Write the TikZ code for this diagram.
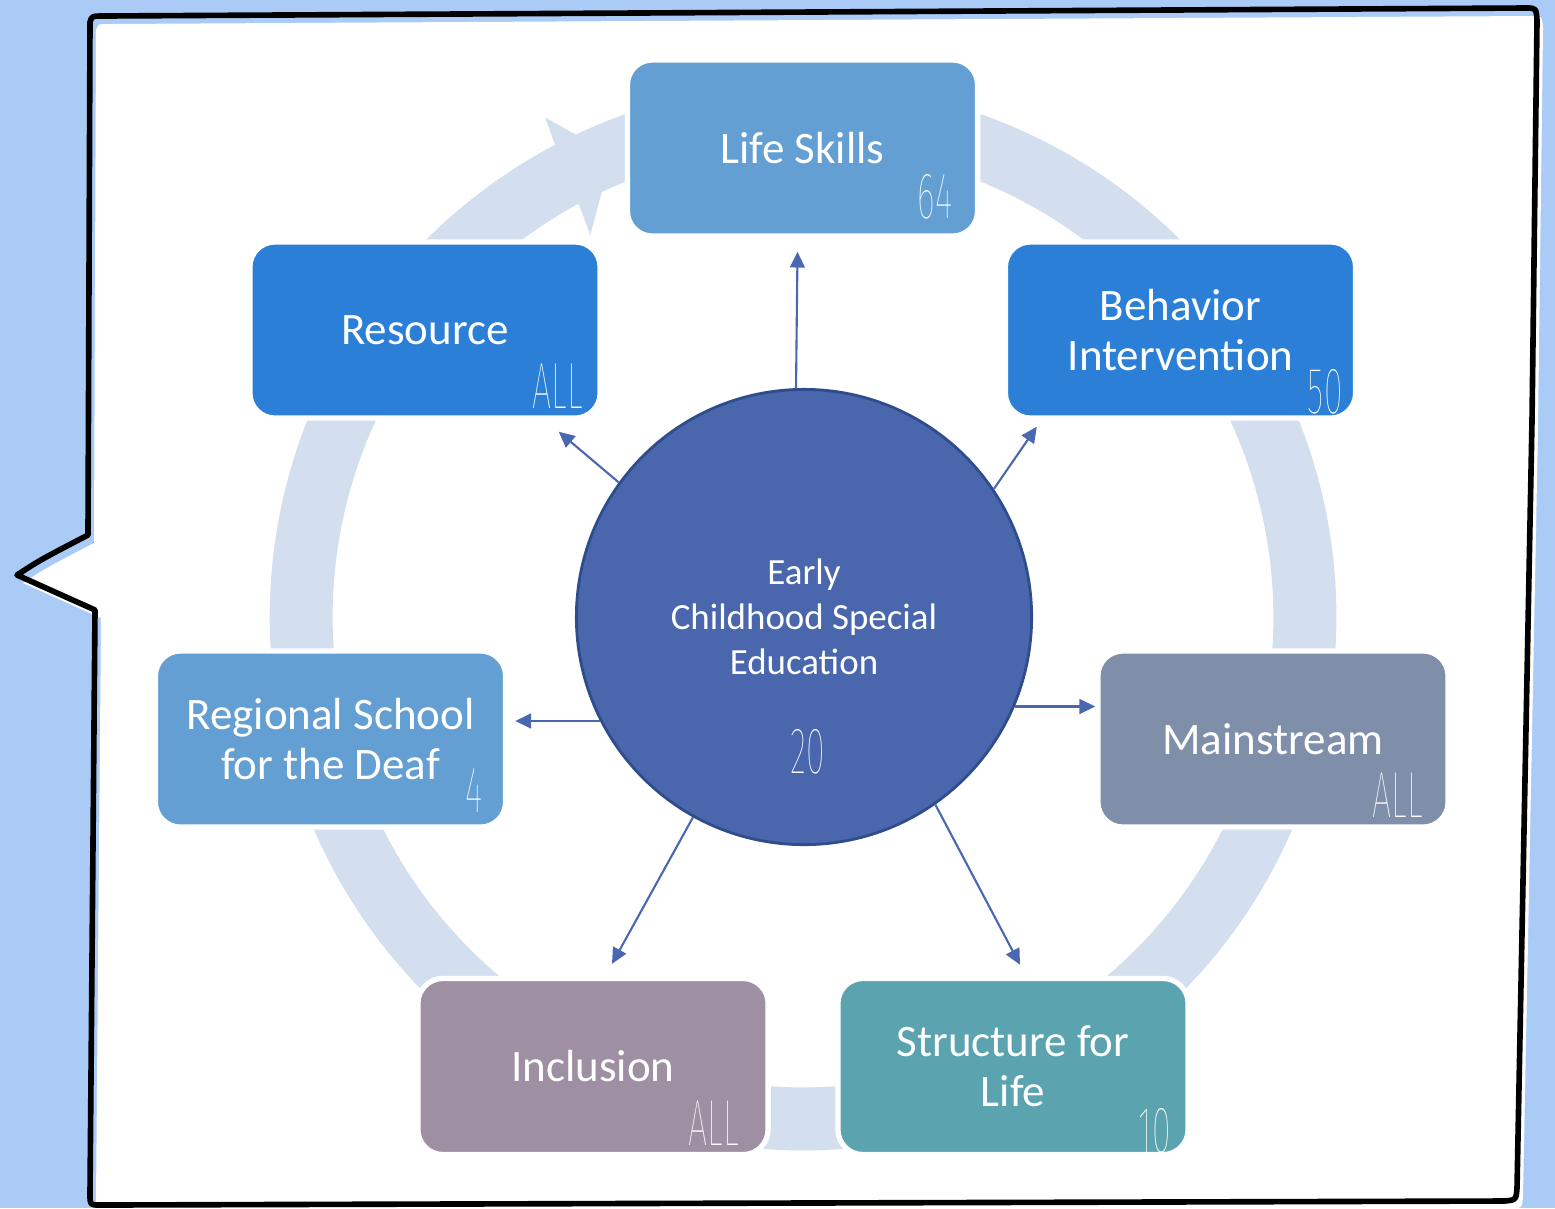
\documentclass[tikz,border=0pt]{standalone}
\usepackage{graphicx}
\usepackage{fontspec}
\setmainfont{Carlito}
\IfFontExistsTF{Fira Sans Thin}{\newfontfamily\numfont{Fira Sans Thin}}{%
  \IfFontExistsTF{DejaVu Sans ExtraLight}{\newfontfamily\numfont{DejaVu Sans ExtraLight}}{%
    \IfFontExistsTF{Lato Hairline}{\newfontfamily\numfont{Lato Hairline}}{%
      \newfontfamily\numfont{Carlito}}}}
\usetikzlibrary{arrows.meta,calc}

\definecolor{bgblue}{HTML}{ABCBF7}
\definecolor{ringblue}{HTML}{D3DFEF}
\definecolor{paleblue}{HTML}{639FD2}
\definecolor{brightblue}{HTML}{2B7FD6}
\definecolor{greyblue}{HTML}{7F8FAA}
\definecolor{mauvebox}{HTML}{9E90A2}
\definecolor{tealbox}{HTML}{5BA3AF}
\definecolor{hubblue}{HTML}{4A67AE}
\definecolor{hubedge}{HTML}{2F4C8C}
\definecolor{linkblue}{HTML}{4A68B0}

\newcommand{\slim}[1]{\scalebox{0.52}[1]{#1}}

\tikzset{
  prog/.style={rounded corners=0.25cm, draw=white, line width=1.5pt,
    minimum width=3.50cm, minimum height=1.76cm, inner sep=0pt,
    text=white, align=center, font=\fontsize{12.8}{14.2}\selectfont},
  num/.style={text=white, inner sep=0pt, font=\numfont\fontsize{18.6}{19}\selectfont},
  link/.style={draw=linkblue, line width=0.6pt, -{Triangle[length=4.5pt,width=4.2pt]}},
}

\begin{document}
\begin{tikzpicture}[x=0.01cm,y=-0.01cm]
\fill[bgblue] (0,0) rectangle (1555,1208);
\useasboundingbox (0,0) rectangle (1555,1208);

% speech bubble
\begin{scope}[shift={(6,8)}]
\fill[white] (90,22) .. controls (92,16) .. (104,16) -- (1526,8) .. controls (1536,8) .. (1537,20)
  -- (1532,420) -- (1517,1188) .. controls (1516,1200) .. (1504,1201) -- (100,1205)
  .. controls (90,1205) .. (90,1194) -- (95,610) -- (17,575) .. controls (40,560) .. (88,535) -- cycle;
\end{scope}
\draw[black, line width=1.6pt, line join=round] (90,22) .. controls (92,16) .. (104,16) -- (1526,8) .. controls (1536,8) .. (1537,20)
  -- (1532,420) -- (1517,1188) .. controls (1516,1200) .. (1504,1201) -- (100,1205)
  .. controls (90,1205) .. (90,1194) -- (95,610) -- (17,575) .. controls (40,560) .. (88,535) -- cycle;

% cycle ring
\begin{scope}[shift={(803,617)}, x=1cm, y=1cm]
\fill[ringblue] (117.7:5.33) arc[start angle=117.7, end angle=-255, radius=5.33]
  -- (-255:4.70) arc[start angle=-255, end angle=118.5, radius=4.70]
  -- (119.1:4.37) -- (112.5:5.00) -- (117.3:5.62) -- cycle;
\end{scope}

% programmes
\node[prog, fill=paleblue] (life) at (802.5,148) {Life Skills};
\node[prog, fill=brightblue] (res) at (425,330) {Resource};
\node[prog, fill=brightblue] (beh) at (1180.5,330) {Behavior\\Intervention};
\node[prog, fill=paleblue] (rsd) at (330.5,739) {Regional School\\for the Deaf};
\node[prog, fill=greyblue] (main) at (1273,739) {Mainstream};
\node[prog, fill=mauvebox] (incl) at (593,1066.5) {Inclusion};
\node[prog, fill=tealbox] (str) at (1013,1066.5) {Structure for\\Life};

\node[num] at ($(life.south east)+(-45,-42)$) {\slim{64}};
\node[num] at ($(res.south east)+(-45,-34)$) {\slim{ALL}};
\node[num] at ($(beh.south east)+(-33,-29)$) {\slim{50}};
\node[num] at ($(rsd.south east)+(-34,-39)$) {\slim{4}};
\node[num] at ($(main.south east)+(-53,-34)$) {\slim{ALL}};
\node[num] at ($(incl.south east)+(-57,-34)$) {\slim{ALL}};
\node[num] at ($(str.south east)+(-36,-26)$) {\slim{10}};

% hub
\node[circle, fill=hubblue, draw=hubedge, line width=0.8pt, minimum size=4.55cm, inner sep=0pt] (ecse) at (804,617) {};
\node[text=white, align=center, font=\fontsize{10.5}{12.8}\selectfont] (ecsetext) at (804,617) {Early\\Childhood Special\\Education};
\node[num] at ($(ecse.center)+(4,135)$) {\slim{20}};

\draw[link] (ecse.92) -- ($(life.south)+(-5,13)$);
\draw[link] (ecse.144) -- ($(res.south east)+(-44,11)$);
\draw[link] (ecse.34) -- ($(beh.south west)+(34,6)$);
\draw[link, shorten >=0.07cm] (ecse.207) -- (rsd.east |- ecse.207);
\draw[link] (ecse.-23.5) -- (main.west |- ecse.-23.5);
\draw[link] (ecse.241) -- ($(incl.north)+(19,-12)$);
\draw[link] (ecse.-55) -- ($(str.north)+(7,-11)$);

\end{tikzpicture}
\end{document}
